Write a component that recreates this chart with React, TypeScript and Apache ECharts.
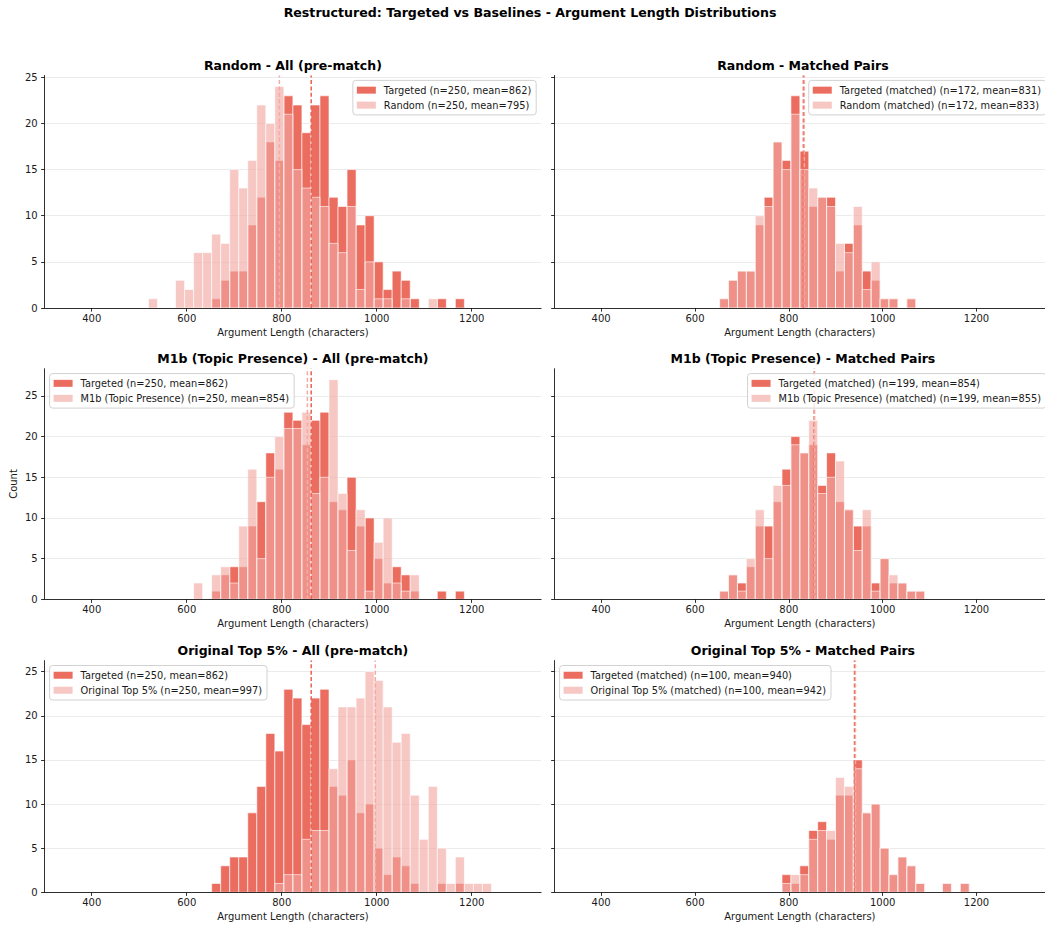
import React, { useEffect, useRef } from "react";
import * as echarts from "echarts";

// Histogram bins: 50 common bins of width 19 starting at 348.5
const BIN_ORIGIN = 348.5;
const BIN_WIDTH = 19;
const FIRST_BIN = 9; // the count arrays below start at this bin index (bins 9..46)

const targetedAll = [0, 0, 0, 0, 0, 0, 0, 1, 3, 4, 4, 9, 12, 18, 16, 23, 22, 19, 22, 23, 12, 11, 15, 9, 10, 5, 2, 4, 3, 1, 0, 0, 1, 0, 1, 0, 0, 0];
const randomAll = [1, 0, 0, 3, 2, 6, 6, 8, 7, 15, 13, 16, 22, 20, 24, 21, 15, 13, 12, 11, 7, 6, 11, 2, 5, 1, 1, 0, 1, 0, 0, 1, 0, 0, 0, 0, 0, 0];
const targetedMatchedRandom = [0, 0, 0, 0, 0, 0, 0, 1, 3, 4, 4, 9, 12, 18, 16, 23, 17, 11, 12, 12, 4, 7, 9, 4, 3, 1, 1, 0, 1, 0, 0, 0, 0, 0, 0, 0, 0, 0];
const randomMatched = [0, 0, 0, 0, 0, 0, 0, 1, 3, 4, 4, 10, 11, 18, 15, 21, 15, 13, 12, 11, 7, 6, 11, 2, 5, 1, 1, 0, 1, 0, 0, 0, 0, 0, 0, 0, 0, 0];
const m1bAll = [0, 0, 0, 0, 0, 2, 0, 3, 4, 2, 9, 16, 5, 15, 20, 21, 21, 23, 13, 15, 27, 13, 6, 11, 1, 7, 10, 2, 1, 3, 0, 0, 0, 0, 0, 0, 0, 0];
const targetedMatchedM1b = [0, 0, 0, 0, 0, 0, 0, 1, 3, 2, 4, 9, 9, 12, 16, 20, 18, 19, 14, 18, 12, 11, 9, 9, 2, 5, 2, 2, 1, 1, 0, 0, 0, 0, 0, 0, 0, 0];
const m1bMatched = [0, 0, 0, 0, 0, 0, 0, 1, 3, 1, 5, 11, 5, 14, 14, 19, 18, 22, 13, 15, 17, 11, 6, 11, 1, 5, 3, 2, 1, 1, 0, 0, 0, 0, 0, 0, 0, 0];
const top5All = [0, 0, 0, 0, 0, 0, 0, 0, 0, 0, 0, 0, 0, 0, 1, 2, 2, 6, 7, 7, 14, 21, 21, 22, 25, 24, 21, 17, 18, 11, 6, 12, 5, 1, 4, 1, 1, 1];
const targetedMatchedTop5 = [0, 0, 0, 0, 0, 0, 0, 0, 0, 0, 0, 0, 0, 0, 2, 1, 3, 7, 8, 6, 11, 11, 15, 9, 10, 5, 2, 4, 3, 1, 0, 0, 1, 0, 1, 0, 0, 0];
const top5Matched = [0, 0, 0, 0, 0, 0, 0, 0, 0, 0, 0, 0, 0, 0, 1, 2, 2, 6, 7, 7, 13, 12, 14, 9, 10, 5, 2, 4, 3, 1, 0, 0, 1, 0, 1, 0, 0, 0];

const panelTitles = [
  "Random - All (pre-match)",
  "Random - Matched Pairs",
  "M1b (Topic Presence) - All (pre-match)",
  "M1b (Topic Presence) - Matched Pairs",
  "Original Top 5% - All (pre-match)",
  "Original Top 5% - Matched Pairs",
];
const targetedNames = [
  "Targeted (n=250, mean=862)",
  "Targeted (matched) (n=172, mean=831)",
  "Targeted (n=250, mean=862)",
  "Targeted (matched) (n=199, mean=854)",
  "Targeted (n=250, mean=862)",
  "Targeted (matched) (n=100, mean=940)",
];
const baselineNames = [
  "Random (n=250, mean=795)",
  "Random (matched) (n=172, mean=833)",
  "M1b (Topic Presence) (n=250, mean=854)",
  "M1b (Topic Presence) (matched) (n=199, mean=855)",
  "Original Top 5% (n=250, mean=997)",
  "Original Top 5% (matched) (n=100, mean=942)",
];
const targetedCounts = [targetedAll, targetedMatchedRandom, targetedAll, targetedMatchedM1b, targetedAll, targetedMatchedTop5];
const baselineCounts = [randomAll, randomMatched, m1bAll, m1bMatched, top5All, top5Matched];
const targetedMeans = [862, 831, 862, 854, 862, 940];
const baselineMeans = [795, 833, 854, 855, 997, 942];

const suptitle = "Restructured: Targeted vs Baselines - Argument Length Distributions";
const xAxisName = "Argument Length (characters)";
const yAxisName = "Count";
const xTicks = [400, 600, 800, 1000, 1200];
const yTicks = [0, 5, 10, 15, 20, 25];
const X_MIN = 301;
const X_MAX = 1346;
const rowYMax = [25.2, 28.35, 26.25];

// layout
const colLeft = [44.7, 554.7];
const gridW = 496.4;
const rowTop = [75.5, 368.7, 660.6];
const rowBottom = [308, 599.3, 892.3];
const legendPos: any[] = [
  { right: 508.8, top: 80.4 },
  { right: -1.1, top: 80.4 },
  { left: 49.6, top: 373.6 },
  { right: -1.1, top: 373.6 },
  { left: 49.6, top: 665.5 },
  { left: 559.6, top: 665.5 },
];

const FONT = "'DejaVu Sans', sans-serif";
const TCOLOR = "#eb6d60";
const BCOLOR = "rgba(241,167,160,0.63)";
const TMEAN = "#e8604f";
const BMEAN = "#f3aca5";
const AXIS = "#1a1a1a";

function toBins(counts: number[]) {
  return counts
    .map((v, i) => [
      BIN_ORIGIN + (FIRST_BIN + i) * BIN_WIDTH,
      BIN_ORIGIN + (FIRST_BIN + i + 1) * BIN_WIDTH,
      v,
    ])
    .filter((d) => d[2] > 0);
}

function histRender(fill: string) {
  return (params: any, api: any) => {
    const p0 = api.coord([api.value(0), api.value(2)]);
    const p1 = api.coord([api.value(1), 0]);
    return {
      type: "rect",
      shape: { x: p0[0], y: p0[1], width: p1[0] - p0[0], height: p1[1] - p0[1] },
      style: { fill, stroke: "#ffffff", lineWidth: 0.6 },
    };
  };
}

const plain = (v: number) => String(v);

function buildOption() {
  const grid: any[] = [];
  const xAxis: any[] = [];
  const yAxis: any[] = [];
  const series: any[] = [];
  const legend: any[] = [];
  const graphic: any[] = [
    {
      type: "text",
      x: 530,
      y: 12,
      style: {
        text: suptitle,
        fontSize: 12.6,
        fontWeight: "bold",
        fontFamily: FONT,
        fill: "#000",
        align: "center",
        verticalAlign: "middle",
      },
    },
  ];

  for (let i = 0; i < 6; i++) {
    const r = Math.floor(i / 2);
    const c = i % 2;
    const top = rowTop[r];
    const h = rowBottom[r] - rowTop[r];
    grid.push({ left: colLeft[c], top, width: gridW, height: h, containLabel: false });
    graphic.push({
      type: "text",
      x: colLeft[c] + gridW / 2,
      y: top - 10.5,
      style: {
        text: panelTitles[i],
        fontSize: 12.5,
        fontWeight: "bold",
        fontFamily: FONT,
        fill: "#000",
        align: "center",
        verticalAlign: "middle",
      },
    });
    xAxis.push({
      type: "value",
      gridIndex: i,
      min: X_MIN,
      max: X_MAX,
      z: 5,
      axisLine: { show: true, onZero: false, lineStyle: { color: AXIS, width: 0.9 } },
      axisTick: { show: true, length: 3.6, customValues: xTicks, lineStyle: { color: AXIS, width: 0.9 } },
      axisLabel: { customValues: xTicks, formatter: plain, fontSize: 10, color: AXIS, fontFamily: FONT, margin: 5 },
      splitLine: { show: false },
      name: xAxisName,
      nameLocation: "middle",
      nameGap: 19,
      nameTextStyle: { fontSize: 10, color: AXIS, fontFamily: FONT },
    });
    yAxis.push({
      type: "value",
      gridIndex: i,
      min: 0,
      max: rowYMax[r],
      interval: 5,
      axisLine: { show: true, lineStyle: { color: AXIS, width: 0.9 } },
      axisTick: { show: true, length: 3.6, customValues: yTicks, lineStyle: { color: AXIS, width: 0.9 } },
      axisLabel: { show: c === 0, customValues: yTicks, formatter: plain, fontSize: 10, color: AXIS, fontFamily: FONT, margin: 7 },
      splitLine: { show: true, lineStyle: { color: "#e6e6e6", width: 0.8 } },
      name: i === 2 ? yAxisName : "",
      nameLocation: "middle",
      nameGap: 26,
      nameTextStyle: { fontSize: 10, color: AXIS, fontFamily: FONT },
    });
    series.push({
      type: "custom",
      name: targetedNames[i],
      xAxisIndex: i,
      yAxisIndex: i,
      itemStyle: { color: TCOLOR },
      encode: { x: [0, 1], y: 2 },
      data: toBins(targetedCounts[i]),
      renderItem: histRender(TCOLOR),
      silent: true,
    });
    series.push({
      type: "custom",
      name: baselineNames[i],
      xAxisIndex: i,
      yAxisIndex: i,
      itemStyle: { color: BCOLOR },
      encode: { x: [0, 1], y: 2 },
      data: toBins(baselineCounts[i]),
      renderItem: histRender(BCOLOR),
      silent: true,
    });
    series.push({
      type: "line",
      name: "mean-t-" + i,
      xAxisIndex: i,
      yAxisIndex: i,
      data: [
        [targetedMeans[i], 0],
        [targetedMeans[i], rowYMax[r]],
      ],
      symbol: "none",
      showSymbol: false,
      silent: true,
      z: 3,
      lineStyle: { color: TMEAN, width: 1.5, type: [4, 2.4] },
    });
    series.push({
      type: "line",
      name: "mean-b-" + i,
      xAxisIndex: i,
      yAxisIndex: i,
      data: [
        [baselineMeans[i], 0],
        [baselineMeans[i], rowYMax[r]],
      ],
      symbol: "none",
      showSymbol: false,
      silent: true,
      z: 3,
      lineStyle: { color: BMEAN, width: 1.5, type: [4, 2.4] },
    });
    legend.push({
      ...legendPos[i],
      orient: "vertical",
      data: [targetedNames[i], baselineNames[i]],
      icon: "rect",
      itemWidth: 19,
      itemHeight: 7,
      itemGap: 3.5,
      padding: [4, 5, 4, 4],
      backgroundColor: "rgba(255,255,255,0.8)",
      borderColor: "#d2d2d2",
      borderWidth: 1,
      borderRadius: 3,
      selectedMode: false,
      textStyle: { fontSize: 9.8, fontFamily: FONT, color: AXIS, lineHeight: 11.5, padding: [0, 0, 0, 3] },
    });
  }

  return {
    animation: false,
    backgroundColor: "#ffffff",
    textStyle: { fontFamily: FONT },
    grid,
    xAxis,
    yAxis,
    series,
    legend,
    graphic,
  };
}

export default function App() {
  const ref = useRef<HTMLDivElement>(null);
  useEffect(() => {
    if (!ref.current) return;
    const chart = echarts.init(ref.current, undefined, { renderer: "svg" });
    chart.setOption(buildOption() as any);
    return () => {
      chart.dispose();
    };
  }, []);
  return (
    <div
      ref={ref}
      style={{ position: "fixed", left: 0, top: 0, width: 1045, height: 929, background: "#fff" }}
    />
  );
}
